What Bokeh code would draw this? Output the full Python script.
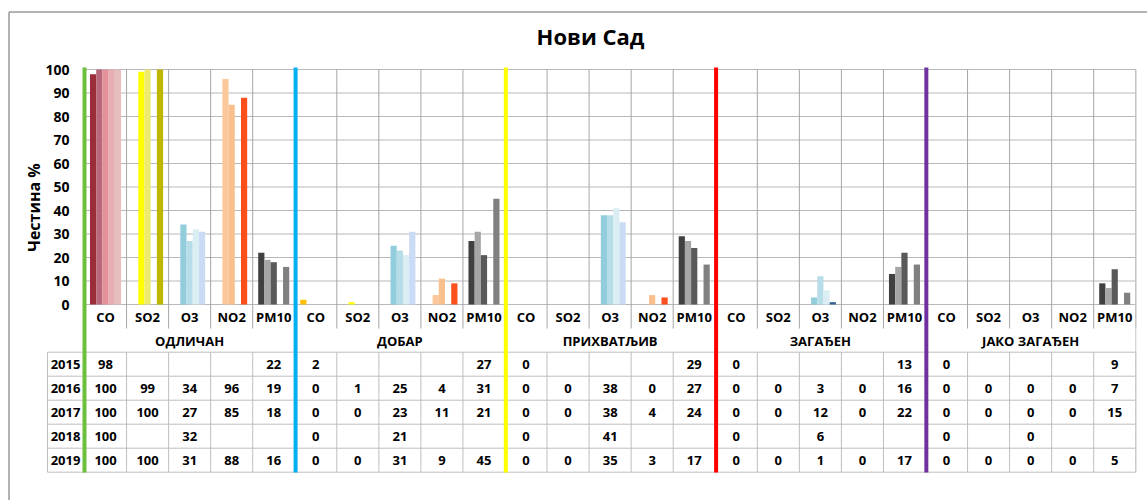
import math
from bokeh.plotting import figure
from bokeh.models import ColumnDataSource, LinearAxis, FixedTicker, Range1d
from bokeh.core.properties import value
from bokeh.embed import file_html
from bokeh.resources import INLINE

# ---------------- data ----------------
title = "Нови Сад"
y_label = "Честина %"
years = ["2015", "2016", "2017", "2018", "2019"]
pollutants = ["CO", "SO2", "O3", "NO2", "PM10"]
categories = ["ОДЛИЧАН", "ДОБАР", "ПРИХВАТЉИВ", "ЗАГАЂЕН", "ЈАКО ЗАГАЂЕН"]
N = None
# rows: pollutants (CO, SO2, O3, NO2, PM10); columns: years 2015..2019
odlican = [[98, 100, 100, 100, 100], [N, 99, 100, N, 100], [N, 34, 27, 32, 31], [N, 96, 85, N, 88], [22, 19, 18, N, 16]]
dobar = [[2, 0, 0, 0, 0], [N, 1, 0, N, 0], [N, 25, 23, 21, 31], [N, 4, 11, N, 9], [27, 31, 21, N, 45]]
prihvatljiv = [[0, 0, 0, 0, 0], [N, 0, 0, N, 0], [N, 38, 38, 41, 35], [N, 0, 4, N, 3], [29, 27, 24, N, 17]]
zagadjen = [[0, 0, 0, 0, 0], [N, 0, 0, N, 0], [N, 3, 12, 6, 1], [N, 0, 0, N, 0], [13, 16, 22, N, 17]]
jako_zagadjen = [[0, 0, 0, 0, 0], [N, 0, 0, N, 0], [N, 0, 0, 0, 0], [N, 0, 0, N, 0], [9, 7, 15, N, 5]]
all_data = [odlican, dobar, prihvatljiv, zagadjen, jako_zagadjen]
y_ticks = list(range(0, 101, 10))

# ---------------- styles ----------------
bar_colors = {
    "CO": ["#9B2D3A", "#B7697B", "#E5919A", "#E8AEB2", "#E6BEC0"],
    "SO2": ["#FFFF00", "#FFFF00", "#EEEA70", "#EEEA70", "#BDB700"],
    "O3": ["#92CDDC", "#92CDDC", "#B7DEE8", "#DAEEF3", "#C9DBF5"],
    "NO2": ["#FCC89B", "#FCC89B", "#F9C08E", "#F9C08E", "#FC4F1C"],
    "PM10": ["#404040", "#A6A6A6", "#595959", "#595959", "#808080"],
}
color_overrides = {(1, 0, 0): "#FFC000", (3, 2, 4): "#376092"}
sep_colors = ["#6CC03C", "#00B0F0", "#FFFF00", "#FF0000", "#7030A0"]
FONT = value("Open Sans")

# ---------------- geometry (pixel mapping) ----------------
W, H = 1147, 500
COL = 42.05          # px per pollutant column
X0 = 84              # px of x = 0
PXU = 2.35           # px per percent
Y100 = 69            # px of y = 100


def xd(px):
    return (px - X0) / COL


def yd(py):
    return 100 - (py - Y100) / PXU


p = figure(width=W, height=H, output_backend="svg", toolbar_location=None,
           x_axis_type=None, y_axis_type=None,
           x_range=Range1d(-X0 / COL, (W - X0) / COL),
           y_range=Range1d(100 - (H - Y100) / PXU, 100 + Y100 / PXU),
           min_border_left=0, min_border_right=0, min_border_top=0, min_border_bottom=0)
p.outline_line_color = None
p.background_fill_color = "white"
p.border_fill_color = "white"

ncat = len(categories)
npol = len(pollutants)
ncols = ncat * npol

# outer border (top + left)
p.segment(x0=[xd(8.5), xd(8.5)], y0=[yd(11.5), yd(11.5)], x1=[xd(1160), xd(8.5)], y1=[yd(11.5), yd(520)],
          line_color="#9A9A9A", line_width=1.5)

# horizontal gridlines
p.segment(x0=[0] * len(y_ticks), y0=y_ticks, x1=[ncols] * len(y_ticks), y1=y_ticks,
          line_color="#B8B8B8", line_width=1)
# vertical column separators through chart and label row
vx = list(range(ncols + 1))
p.segment(x0=vx, y0=[100] * len(vx), x1=vx, y1=[yd(328)] * len(vx), line_color="#A6A6A6", line_width=1)

# table grid
row_top = yd(351.7)
row_h = 24 / PXU
rows_y = [row_top - i * row_h for i in range(len(years) + 1)]
tx_left = xd(47)
p.segment(x0=[tx_left] * len(rows_y), y0=rows_y, x1=[ncols] * len(rows_y), y1=rows_y,
          line_color="#BFBFBF", line_width=1)
tvx = [tx_left] + vx
p.segment(x0=tvx, y0=[rows_y[0]] * len(tvx), x1=tvx, y1=[rows_y[-1]] * len(tvx),
          line_color="#BFBFBF", line_width=1)
# right edge from chart top to table bottom
p.segment(x0=[ncols], y0=[100], x1=[ncols], y1=[rows_y[-1]], line_color="#C8C8C8", line_width=1)

# bars
bw = 31 / 42 / len(years)
bx, btop, bcol = [], [], []
for g, cat in enumerate(all_data):
    for pi, pol in enumerate(pollutants):
        for yi in range(len(years)):
            v = cat[pi][yi]
            if v is None or v == 0:
                continue
            bx.append(g * npol + pi + 0.5 + (yi - 2) * bw)
            btop.append(v)
            bcol.append(color_overrides.get((g, pi, yi), bar_colors[pol][yi]))
p.vbar(x="x", top="top", bottom=0, width=bw, fill_color="color", line_color=None,
       source=ColumnDataSource(dict(x=bx, top=btop, color=bcol)))

# category separator lines
sx = [g * npol + 0.02 * (g > 0) for g in range(ncat)]
p.segment(x0=sx, y0=[yd(67)] * ncat, x1=sx, y1=[yd(472)] * ncat, line_color=sep_colors, line_width=4)

# y axis
yax = LinearAxis(fixed_location=0, ticker=FixedTicker(ticks=y_ticks))
yax.axis_line_color = None
yax.major_tick_line_color = None
yax.minor_tick_line_color = None
yax.major_tick_out = 0
yax.major_label_standoff = 15
yax.major_label_text_font = "Open Sans"
yax.major_label_text_font_style = "bold"
yax.major_label_text_font_size = "14px"
yax.major_label_text_color = "black"
p.add_layout(yax, "left")


# texts
def add_text(xs, ys, texts, size, angle=0.0):
    p.text(x="x", y="y", text="t", source=ColumnDataSource(dict(x=xs, y=ys, t=texts)),
           text_font=FONT, text_font_style="bold", text_font_size=size, text_color="black",
           text_align="center", text_baseline="middle", angle=angle)


add_text([xd(590)], [yd(35)], [title], "22px")
add_text([xd(33)], [yd(207)], [y_label], "16px", angle=math.pi / 2)

# pollutant labels
add_text([c + 0.5 for c in range(ncols)], [yd(316)] * ncols, pollutants * ncat, "13px")
# category labels
add_text([g * npol + npol / 2 for g in range(ncat)], [yd(340)] * ncat, categories, "13px")
# year labels
row_c = [row_top - (i + 0.5) * row_h for i in range(len(years))]
add_text([xd(65)] * len(years), row_c, years, "13px")
# table values
tx, ty, tt = [], [], []
for g, cat in enumerate(all_data):
    for pi in range(npol):
        for yi in range(len(years)):
            v = cat[pi][yi]
            if v is None:
                continue
            tx.append(g * npol + pi + 0.5)
            ty.append(row_c[yi])
            tt.append(str(v))
add_text(tx, ty, tt, "13px")

open("out.html", "w").write(file_html(p, INLINE))
